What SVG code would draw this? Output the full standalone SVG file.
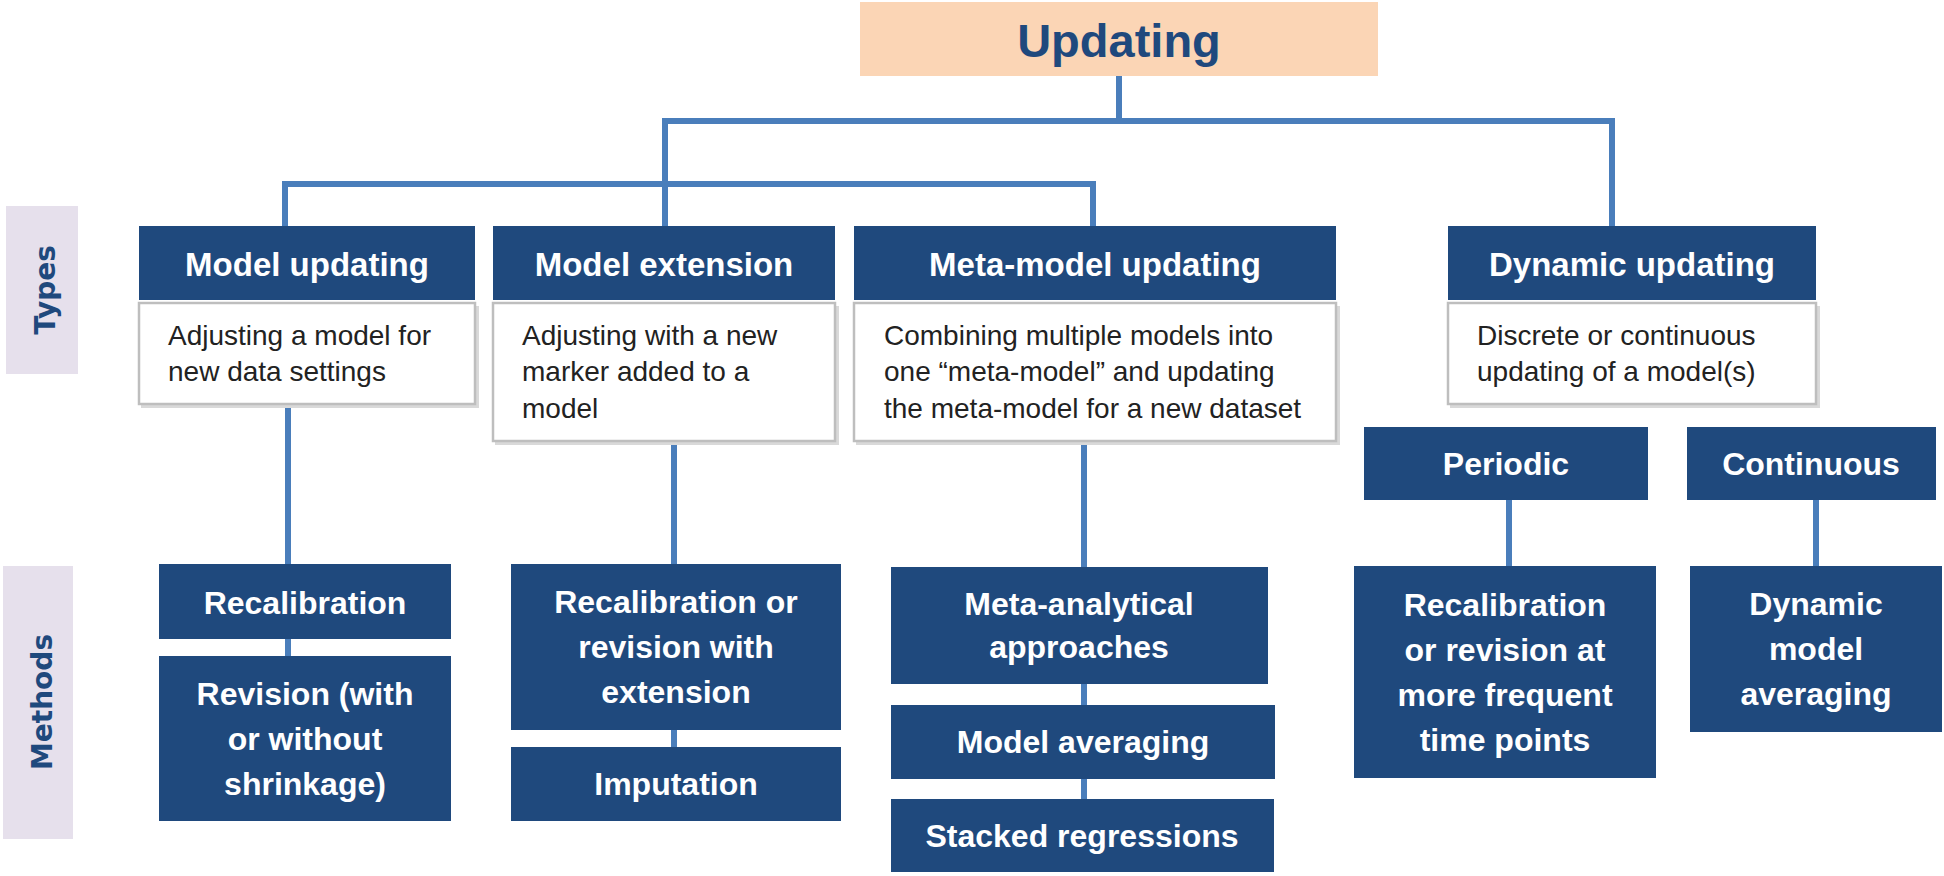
<svg xmlns="http://www.w3.org/2000/svg" width="1944" height="876" viewBox="0 0 1944 876">
<style>
.hdr{fill:#1F497D}
.desc{fill:#FFFFFF;stroke:#BEBEBE;stroke-width:2.5}
.shadow{fill:#D9D9D9}
.side{fill:#E6E0EC}
.ht{font-family:"Liberation Sans",Arial,sans-serif;font-weight:bold;font-size:33px;fill:#FFFFFF;text-anchor:middle}
.mt{font-family:"Liberation Sans",Arial,sans-serif;font-weight:bold;font-size:32px;fill:#FFFFFF;text-anchor:middle}
.dt{font-family:"Liberation Sans",Arial,sans-serif;font-size:28px;fill:#222222}
.st{font-family:"DejaVu Sans",Verdana,sans-serif;font-weight:bold;font-size:28px;fill:#1F497D;text-anchor:middle}
.conn{fill:none;stroke:#4A7EBB;stroke-width:6;stroke-linejoin:miter}
</style>

<g id="connectors">
  <path class="conn" d="M1119,76 V121"/>
  <path class="conn" d="M665,226 V121 H1612 V226"/>
  <path class="conn" d="M285,226 V184 H1093 V226"/>
  <path class="conn" d="M288,405 V564 M288,639 V656"/>
  <path class="conn" d="M674,441 V564 M674,730 V747"/>
  <path class="conn" d="M1084,441 V567 M1084,684 V705 M1084,779 V799"/>
  <path class="conn" d="M1509,500 V566"/>
  <path class="conn" d="M1816,500 V566"/>
</g>

<g id="updating">
  <rect x="860" y="2" width="518" height="74" fill="#FBD5B5"/>
  <text x="1119" y="57" font-family="Liberation Sans, Arial, sans-serif" font-weight="bold" font-size="47" fill="#1F497D" text-anchor="middle">Updating</text>
</g>

<g id="label-types">
  <rect class="side" x="6" y="206" width="72" height="168"/>
  <text class="st" transform="translate(55,290) rotate(-90)">Types</text>
</g>
<g id="label-methods">
  <rect class="side" x="3" y="566" width="70" height="273"/>
  <text class="st" transform="translate(52,702) rotate(-90)">Methods</text>
</g>

<g id="model-updating">
  <rect class="hdr" x="139" y="226" width="336" height="74"/>
  <text class="ht" x="307" y="276">Model updating</text>
  <rect class="shadow" x="141" y="306" width="338" height="102"/>
  <rect class="desc" x="139" y="303" width="336" height="101"/>
  <text class="dt" x="168" y="345">Adjusting a model for</text>
  <text class="dt" x="168" y="381">new data settings</text>
</g>

<g id="model-extension">
  <rect class="hdr" x="493" y="226" width="342" height="74"/>
  <text class="ht" x="664" y="276">Model extension</text>
  <rect class="shadow" x="495" y="306" width="344" height="139"/>
  <rect class="desc" x="493" y="303" width="342" height="138"/>
  <text class="dt" x="522" y="345">Adjusting with a new</text>
  <text class="dt" x="522" y="381">marker added to a</text>
  <text class="dt" x="522" y="418">model</text>
</g>

<g id="meta-model-updating">
  <rect class="hdr" x="854" y="226" width="482" height="74"/>
  <text class="ht" x="1095" y="276">Meta-model updating</text>
  <rect class="shadow" x="856" y="306" width="484" height="139"/>
  <rect class="desc" x="854" y="303" width="482" height="138"/>
  <text class="dt" x="884" y="345">Combining multiple models into</text>
  <text class="dt" x="884" y="381">one “meta-model” and updating</text>
  <text class="dt" x="884" y="418">the meta-model for a new dataset</text>
</g>

<g id="dynamic-updating">
  <rect class="hdr" x="1448" y="226" width="368" height="74"/>
  <text class="ht" x="1632" y="276">Dynamic updating</text>
  <rect class="shadow" x="1450" y="306" width="370" height="102"/>
  <rect class="desc" x="1448" y="303" width="368" height="101"/>
  <text class="dt" x="1477" y="345">Discrete or continuous</text>
  <text class="dt" x="1477" y="381">updating of a model(s)</text>
</g>

<g id="periodic">
  <rect class="hdr" x="1364" y="427" width="284" height="73"/>
  <text class="mt" x="1506" y="475">Periodic</text>
</g>
<g id="continuous">
  <rect class="hdr" x="1687" y="427" width="249" height="73"/>
  <text class="mt" x="1811" y="475">Continuous</text>
</g>

<g id="recalibration">
  <rect class="hdr" x="159" y="564" width="292" height="75"/>
  <text class="mt" x="305" y="614">Recalibration</text>
</g>
<g id="revision">
  <rect class="hdr" x="159" y="656" width="292" height="165"/>
  <text class="mt" x="305" y="705">Revision (with</text>
  <text class="mt" x="305" y="750">or without</text>
  <text class="mt" x="305" y="795">shrinkage)</text>
</g>

<g id="recalibration-extension">
  <rect class="hdr" x="511" y="564" width="330" height="166"/>
  <text class="mt" x="676" y="613">Recalibration or</text>
  <text class="mt" x="676" y="658">revision with</text>
  <text class="mt" x="676" y="703">extension</text>
</g>
<g id="imputation">
  <rect class="hdr" x="511" y="747" width="330" height="74"/>
  <text class="mt" x="676" y="795">Imputation</text>
</g>

<g id="meta-analytical">
  <rect class="hdr" x="891" y="567" width="377" height="117"/>
  <text class="mt" x="1079" y="615">Meta-analytical</text>
  <text class="mt" x="1079" y="658">approaches</text>
</g>
<g id="model-averaging">
  <rect class="hdr" x="891" y="705" width="384" height="74"/>
  <text class="mt" x="1083" y="753">Model averaging</text>
</g>
<g id="stacked-regressions">
  <rect class="hdr" x="891" y="799" width="383" height="73"/>
  <text class="mt" x="1082" y="847">Stacked regressions</text>
</g>

<g id="recalibration-frequent">
  <rect class="hdr" x="1354" y="566" width="302" height="212"/>
  <text class="mt" x="1505" y="616">Recalibration</text>
  <text class="mt" x="1505" y="661">or revision at</text>
  <text class="mt" x="1505" y="706">more frequent</text>
  <text class="mt" x="1505" y="751">time points</text>
</g>
<g id="dynamic-model-averaging">
  <rect class="hdr" x="1690" y="566" width="252" height="166"/>
  <text class="mt" x="1816" y="615">Dynamic</text>
  <text class="mt" x="1816" y="660">model</text>
  <text class="mt" x="1816" y="705">averaging</text>
</g>
</svg>
